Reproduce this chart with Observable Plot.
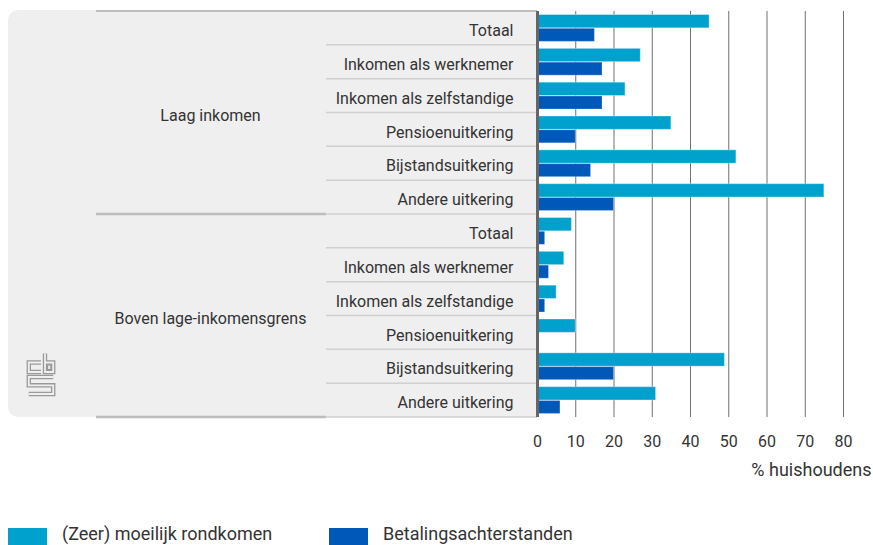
<!DOCTYPE html>
<html>
<head>
<meta charset="utf-8">
<script src="https://cdn.jsdelivr.net/npm/d3@7"></script>
<script src="https://cdn.jsdelivr.net/npm/@observablehq/plot@0.6"></script>
<style>
  html, body { margin: 0; padding: 0; background: #fff; }
  #wrap { position: relative; width: 873px; height: 545px; overflow: hidden; font-family: Roboto, sans-serif; color: #333; }
  #chart svg { display: block; }
  .lg-sw { position: absolute; width: 39px; height: 17px; }
  .lg-tx { position: absolute; font-size: 18px; line-height: 18px; white-space: nowrap; color: #333; }
</style>
</head>
<body>
<div id="wrap">
  <div id="chart"></div>
  <div id="legend"></div>
</div>
<script>
// ---- data ----
const groups = ["Laag inkomen", "Boven lage-inkomensgrens"];
const categories = ["Totaal", "Inkomen als werknemer", "Inkomen als zelfstandige", "Pensioenuitkering", "Bijstandsuitkering", "Andere uitkering"];
// values per row, group-major order (Laag inkomen first, then Boven lage-inkomensgrens)
const moeilijkRondkomen = [45, 27, 23, 35, 52, 75, 9, 7, 5, 10, 49, 31];
const betalingsachterstanden = [15, 17, 17, 10, 14, 20, 2, 3, 2, 0, 20, 6];
const seriesNames = ["(Zeer) moeilijk rondkomen", "Betalingsachterstanden"];
const seriesColors = ["#00a1cd", "#0058b8"];
const xTicks = [0, 10, 20, 30, 40, 50, 60, 70, 80];
const xLabel = "% huishoudens";

// ---- table ----
const rows = [];
groups.forEach((g, gi) => categories.forEach((c, ci) => {
  const i = gi * categories.length + ci;
  rows.push({ key: g + "|" + c, group: g, category: c, a: moeilijkRondkomen[i], b: betalingsachterstanden[i] });
}));
const keys = rows.map(d => d.key);
const midIdx = Math.floor(categories.length / 2);
const groupRows = groups.map(g => ({ key: g + "|" + categories[midIdx], group: g }));

const plot = Plot.plot({
  width: 873,
  height: 495,
  marginTop: 11,
  marginBottom: 78,
  marginLeft: 537,
  marginRight: 30,
  style: { fontFamily: "Roboto, sans-serif", fontSize: "16px", color: "#333", background: "transparent", overflow: "visible" },
  x: { domain: [0, 80], label: null },
  y: { domain: keys, padding: 0, round: false, label: null },
  marks: [
    Plot.ruleX(xTicks.filter(t => t > 0), { stroke: "#707070", strokeWidth: 1 }),
    Plot.barX(rows, { x: "a", y: "key", fill: seriesColors[0], insetTop: 3.5, insetBottom: 17, stroke: "#fff", strokeOpacity: 0.35, strokeWidth: 1 }),
    Plot.barX(rows, { x: "b", y: "key", fill: seriesColors[1], insetTop: 17.3, insetBottom: 3.5, stroke: "#fff", strokeOpacity: 0.25, strokeWidth: 1 }),
    Plot.ruleX([0], { stroke: "#666", strokeWidth: 3 }),
    Plot.axisX({ ticks: xTicks, tickSize: 0, tickPadding: 18, fontSize: 16, label: null, tickFormat: d => String(d) }),
    Plot.axisY({ tickSize: 0, tickPadding: 24, fontSize: 16, label: null, dy: 2.5, tickFormat: k => k.split("|")[1] }),
    Plot.text(groupRows, { y: "key", text: "group", frameAnchor: "left", dx: -327, dy: -14.4, textAnchor: "middle", fontSize: 16, fill: "#333" }),
    Plot.text([xLabel], { text: d => d, frameAnchor: "bottom-right", dx: 28, dy: 58.7, textAnchor: "end", fontSize: 18, fill: "#333" })
  ]
});

// ---- background panel, row separators and logo (decoration, positioned from the y scale) ----
const ys = plot.scale("y");
const r0 = Math.min(...ys.range), r1 = Math.max(...ys.range);
const step = (r1 - r0) / keys.length;
const svg = d3.select(plot);
const deco = svg.insert("g", ":first-child");
const xAxis0 = 537, xCat = 326, xGrp = 96, xPanel = 8, rad = 10;
deco.append("path")
  .attr("d", `M${xAxis0},${r0 - 1} H${xPanel + rad} A${rad},${rad} 0 0 0 ${xPanel},${r0 - 1 + rad} V${r1 - rad} A${rad},${rad} 0 0 0 ${xPanel + rad},${r1} H${xAxis0} Z`)
  .attr("fill", "#efefef");
for (let i = 0; i <= keys.length; i++) {
  const y = r0 + i * step;
  if (i === 0) {
    deco.append("line").attr("x1", xGrp).attr("x2", xAxis0).attr("y1", y).attr("y2", y).attr("stroke", "#bdbdbd").attr("stroke-width", 2);
    continue;
  }
  deco.append("line").attr("x1", xCat).attr("x2", xAxis0).attr("y1", y).attr("y2", y).attr("stroke", "#d0d0d0").attr("stroke-width", 1.5);
  if (i % categories.length === 0) {
    deco.append("line").attr("x1", xGrp).attr("x2", xCat).attr("y1", y).attr("y2", y).attr("stroke", "#bdbdbd").attr("stroke-width", 2.5);
  }
}
// CBS logo (outline style)
const logo = deco.append("g").attr("transform", "translate(27,353)").attr("fill", "none").attr("stroke-linejoin", "miter");
const logoPaths = ["M14,9.5 H1.8 V19 H14", "M18,0.5 V19 H26.2 V9.5 H18", "M26.2,24 H1.8 V32.3 H26.2 V41 H1.8"];
logoPaths.forEach(p => logo.append("path").attr("d", p).attr("stroke", "#999").attr("stroke-width", 4.4));
logoPaths.forEach(p => logo.append("path").attr("d", p).attr("stroke", "#efefef").attr("stroke-width", 1.8));
logo.append("rect").attr("x", 20.6).attr("y", 12).attr("width", 3.2).attr("height", 4.6).attr("stroke", "#999").attr("stroke-width", 1.2);

document.getElementById("chart").appendChild(plot);

// ---- legend ----
const legend = document.getElementById("legend");
const lgPos = [{ sw: 8, tx: 62 }, { sw: 329, tx: 383 }];
seriesNames.forEach((name, i) => {
  const sw = document.createElement("div");
  sw.className = "lg-sw";
  sw.style.left = lgPos[i].sw + "px";
  sw.style.top = "528px";
  sw.style.background = seriesColors[i];
  legend.appendChild(sw);
  const tx = document.createElement("div");
  tx.className = "lg-tx";
  tx.style.left = lgPos[i].tx + "px";
  tx.style.top = "525px";
  tx.textContent = name;
  legend.appendChild(tx);
});
</script>
</body>
</html>
